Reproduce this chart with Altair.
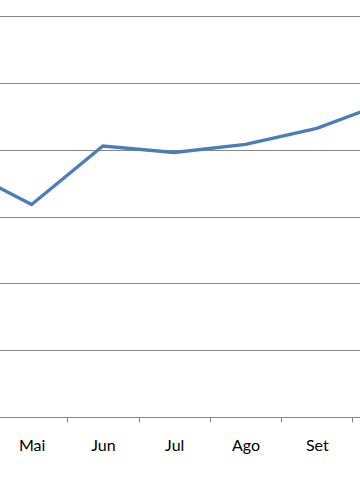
import altair as alt
import pandas as pd

months = ["Abr", "Mai", "Jun", "Jul", "Ago", "Set", "Out"]
values = [3.735, 3.18, 4.055, 3.958, 4.078, 4.32, 4.716]
grid_values = [0, 1, 2, 3, 4, 5, 6]
hidden_labels = ["Abr", "Out"]

df = pd.DataFrame({"mes": months, "valor": values})

x_scale = alt.Scale(domain=months, range=[-75.35, 423.75], paddingInner=0, paddingOuter=0)
y_scale = alt.Scale(domain=[0, 6.24], nice=False, zero=False)

label_expr = " || ".join(f"datum.value == '{m}'" for m in hidden_labels) + " ? '' : datum.label"

chart = alt.Chart(df).mark_line(clip=True, strokeWidth=3.3, color="#4A7EBB").encode(
    x=alt.X("mes:N", sort=months, scale=x_scale, title=None,
            axis=alt.Axis(tickBand="extent", grid=False, domainColor="#868686",
                          tickColor="#868686", tickSize=5, labelAngle=0,
                          labelBaseline="alphabetic", labelPadding=28,
                          labelExpr=label_expr,
                          labelFont="Lato", labelFontSize=16, labelColor="#000000")),
    y=alt.Y("valor:Q", scale=y_scale, title=None,
            axis=alt.Axis(values=grid_values, labels=False, ticks=False, domain=False,
                          grid=True, gridColor="#868686", gridWidth=1)),
).properties(
    width=360, height=417,
    autosize=alt.AutoSizeParams(type="none"),
    padding={"left": 0, "top": 0, "right": 0, "bottom": 87},
    background="white",
).configure_view(stroke=None)

chart.save("out.html", embed_options={"renderer": "svg", "actions": False})
